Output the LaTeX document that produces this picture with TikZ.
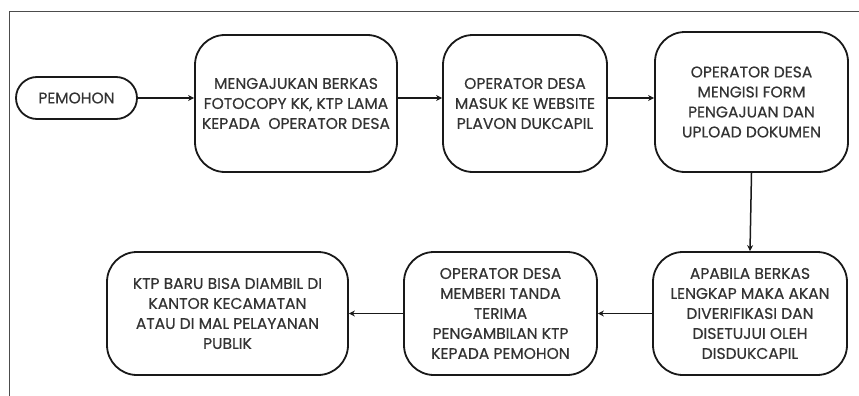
\documentclass[tikz,border=0pt]{standalone}
\usepackage{fontspec}
\setmainfont{Poppins}
\newfontfamily\boxfont{Poppins}[FakeBold=0.5]
\usetikzlibrary{arrows.meta}

\begin{document}
\begin{tikzpicture}[
        x=1pt, y=-1pt,
        % Stili generali
        box/.style={draw=black!90, line width=1.8pt, rounded corners=30pt, align=center,
            inner sep=2pt, text=black!80, font=\boxfont\fontsize{15.5}{20}\selectfont},
        pill/.style={box, rounded corners=21pt},
        arrow/.style={-{Stealth[length=6pt,width=6pt]}, line width=1.5pt, draw=black!90},
        frame/.style={draw=black!70, line width=0.9pt}
    ]
    \useasboundingbox (0,0) rectangle (859,396);

    % 1. Cornice (tagliata a destra e in basso)
    \draw[frame] (859,11) -- (9,11) -- (9,396);

    % 2. Riga superiore
    \node[pill, minimum width=121pt, minimum height=42pt] (pemohon) at (76.5,98) {PEMOHON};
    \node[box, minimum width=202pt, minimum height=137pt] (berkas) at (296,103.5)
        {MENGAJUKAN BERKAS\\FOTOCOPY KK, KTP LAMA\\KEPADA\ \ OPERATOR DESA};
    \node[box, minimum width=164pt, minimum height=137pt] (masuk) at (525,103.5)
        {OPERATOR DESA\\MASUK KE WEBSITE\\PLAVON DUKCAPIL};
    \node[box, minimum width=193pt, minimum height=140pt] (form) at (751.5,102)
        {OPERATOR DESA\\MENGISI FORM\\PENGAJUAN DAN\\UPLOAD DOKUMEN};

    % 3. Riga inferiore
    \node[box, minimum width=194pt, minimum height=123pt] (verif) at (750,313.5)
        {APABILA BERKAS\\LENGKAP MAKA AKAN\\DIVERIFIKASI DAN\\DISETUJUI OLEH\\DISDUKCAPIL};
    \node[box, minimum width=193pt, minimum height=123pt] (terima) at (500.5,313.5)
        {OPERATOR DESA\\MEMBERI TANDA\\TERIMA\\PENGAMBILAN KTP\\KEPADA PEMOHON};
    \node[box, minimum width=241pt, minimum height=123pt] (ktp) at (227.5,313.5)
        {KTP BARU BISA DIAMBIL DI\\KANTOR KECAMATAN\\ATAU DI MAL PELAYANAN\\PUBLIK};

    % 4. Frecce
    \draw[arrow] (pemohon.east) -- (pemohon.east -| berkas.west);
    \draw[arrow] (berkas.east |- pemohon.east) -- (masuk.west |- pemohon.east);
    \draw[arrow] (masuk.east |- pemohon.east) -- (form.west |- pemohon.east);
    \draw[arrow] (form.south) -- (verif.north);
    \draw[arrow] (verif.west) -- (terima.east);
    \draw[arrow] (terima.west) -- (ktp.east);

    \end{tikzpicture}
\end{document}
